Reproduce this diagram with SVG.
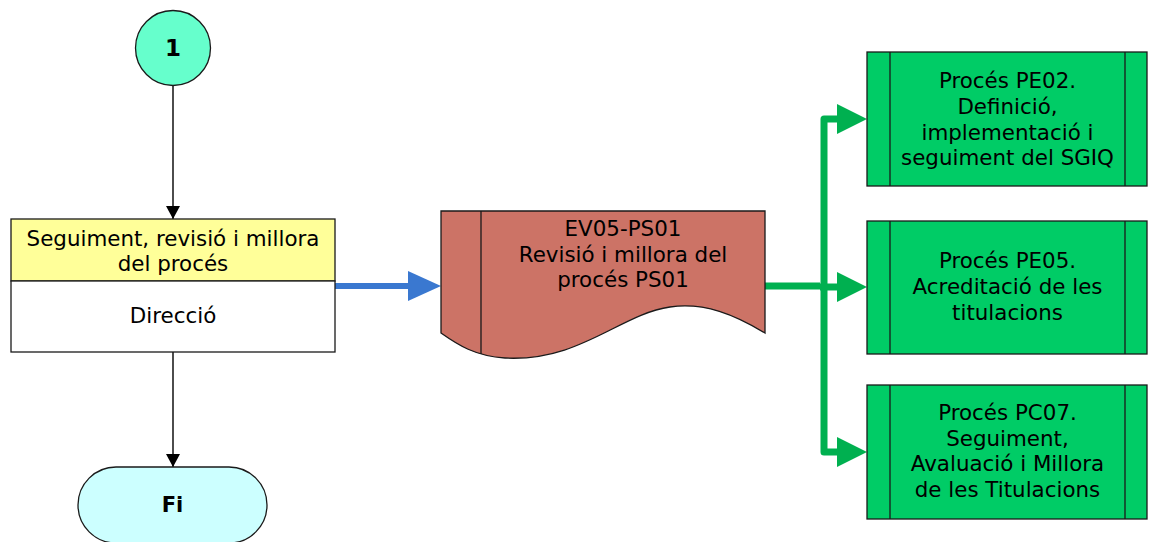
<svg xmlns="http://www.w3.org/2000/svg" width="1152" height="542" viewBox="0 0 1152 542">
<style>
.t{font-family:"DejaVu Sans",Verdana,sans-serif;font-size:21.4px;fill:#000;text-anchor:middle}
.b{font-weight:bold}
.edge{fill:none;stroke:#000;stroke-width:1.4}
.g{fill:none;stroke:#00B050;stroke-width:7;stroke-linejoin:round}
.pbox{fill:#00CC66;stroke:#1a1a1a;stroke-width:1.3}
.ln{stroke:#1a1a1a;stroke-width:1.3}
</style>
<defs>
<marker id="ab" markerWidth="14" markerHeight="14" refX="13" refY="7" orient="auto" markerUnits="userSpaceOnUse"><path d="M0,0 L13,7 L0,14 Z" fill="#000"/></marker>
</defs>
<g id="connectors">
<line class="edge" x1="173" y1="86" x2="173" y2="219" marker-end="url(#ab)"/>
<line class="edge" x1="173" y1="352" x2="173" y2="467" marker-end="url(#ab)"/>
<path d="M335,286 H412" fill="none" stroke="#3A78D0" stroke-width="6" stroke-linecap="round"/>
<path d="M408,271 L441,286 L408,301 Z" fill="#3A78D0"/>
<path class="g" d="M762,286 H820"/>
<path class="g" d="M840,119 H824 V452 H840"/>
<path class="g" d="M820,287 H840"/>
<path d="M837,104 L867,119 L837,134 Z" fill="#00B050"/>
<path d="M837,272 L867,287 L837,302 Z" fill="#00B050"/>
<path d="M837,437 L867,452 L837,467 Z" fill="#00B050"/>
<circle cx="762" cy="286" r="3.5" fill="#00B050"/>
</g>
<g id="start">
<circle cx="173" cy="48" r="37.5" fill="#66FFCC" stroke="#1a1a1a" stroke-width="1.3"/>
<text class="t b" x="173" y="56" style="font-size:23px">1</text>
</g>
<g id="task">
<rect x="11" y="219" width="324" height="62" fill="#FFFF99" stroke="#1a1a1a" stroke-width="1.3"/>
<rect x="11" y="281" width="324" height="71" fill="#FFFFFF" stroke="#1a1a1a" stroke-width="1.3"/>
<text class="t" x="173" y="246">Seguiment, revisió i millora</text>
<text class="t" x="173" y="271">del procés</text>
<text class="t" x="173" y="323">Direcció</text>
</g>
<g id="end">
<rect x="78" y="467" width="189" height="76" rx="38" ry="38" fill="#CCFFFF" stroke="#1a1a1a" stroke-width="1.3"/>
<text class="t b" x="172.5" y="512" style="font-size:21px">Fi</text>
</g>
<g id="document">
<path d="M441,211 H765 V333 C735,315 705,302 670,307 C620,314 580,362 505,358 C475,356 458,345 441,333 Z" fill="#CC7366" stroke="#1a1a1a" stroke-width="1.3"/>
<line class="ln" x1="481" y1="211" x2="481" y2="354"/>
<text class="t" x="623" y="236">EV05-PS01</text>
<text class="t" x="623" y="262">Revisió i millora del</text>
<text class="t" x="623" y="287">procés PS01</text>
</g>
<g id="pe02">
<rect class="pbox" x="867" y="52" width="280" height="134"/>
<line class="ln" x1="890" y1="52" x2="890" y2="186"/>
<line class="ln" x1="1125" y1="52" x2="1125" y2="186"/>
<text class="t" x="1007.5" y="88">Procés PE02.</text>
<text class="t" x="1007.5" y="114">Definició,</text>
<text class="t" x="1007.5" y="140">implementació i</text>
<text class="t" x="1007.5" y="165">seguiment del SGIQ</text>
</g>
<g id="pe05">
<rect class="pbox" x="867" y="221" width="280" height="133"/>
<line class="ln" x1="890" y1="221" x2="890" y2="354"/>
<line class="ln" x1="1125" y1="221" x2="1125" y2="354"/>
<text class="t" x="1007.5" y="268">Procés PE05.</text>
<text class="t" x="1007.5" y="294">Acreditació de les</text>
<text class="t" x="1007.5" y="320">titulacions</text>
</g>
<g id="pc07">
<rect class="pbox" x="867" y="385" width="280" height="134"/>
<line class="ln" x1="890" y1="385" x2="890" y2="519"/>
<line class="ln" x1="1125" y1="385" x2="1125" y2="519"/>
<text class="t" x="1007.5" y="420">Procés PC07.</text>
<text class="t" x="1007.5" y="446">Seguiment,</text>
<text class="t" x="1007.5" y="471">Avaluació i Millora</text>
<text class="t" x="1007.5" y="497">de les Titulacions</text>
</g>
</svg>
